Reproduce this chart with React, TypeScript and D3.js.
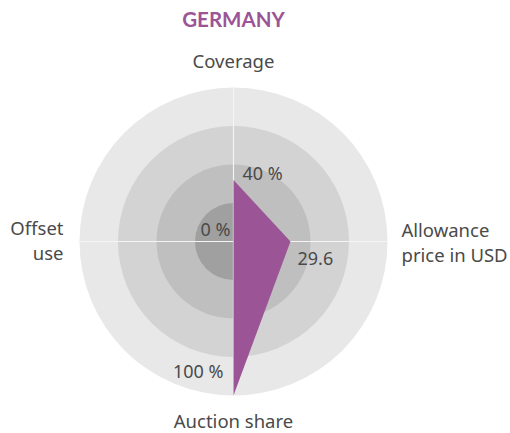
import * as d3 from "d3";

// Radar chart data
const title = "GERMANY";
const axes = ["Coverage", "Allowance price in USD", "Auction share", "Offset use"];
const axisLines = [["Coverage"], ["Allowance", "price in USD"], ["Auction share"], ["Offset", "use"]];
const values = [40, 29.6, 100, 0];
const axisMax = [100, 80, 100, 100];
const valueLabels = ["40 %", "29.6", "100 %", "0 %"];
const rings = [4, 3, 2, 1];

const width = 510;
const height = 433;
const cx = 233.5;
const cy = 241.5;
const outer = 154;
const font = "'Noto Sans', sans-serif";
const textColor = "#4a4a4a";
const purple = "#9b5496";
const ringFill = ["#e8e8e8", "#d3d3d3", "#bfbfbf", "#a0a0a0"];

export default function App() {
  const angle = d3.scalePoint<string>().domain(axes).range([0, 2 * Math.PI * 3 / 4]);
  const radius = axes.map((_, i) => d3.scaleLinear().domain([0, axisMax[i]]).range([0, outer]));
  const ringR = d3.scaleLinear().domain([0, 4]).range([0, outer]);

  const pts = values.map((v, i) => ({ a: angle(axes[i]) ?? 0, r: radius[i](v) }));
  const line = d3.lineRadial<{ a: number; r: number }>()
    .angle(d => d.a)
    .radius(d => d.r)
    .curve(d3.curveLinearClosed);

  const xy = (a: number, r: number) => [r * Math.sin(a), -r * Math.cos(a)];

  // label placement around each point (offset, anchor)
  const valuePos = [
    { dx: 9, dy: 0, anchor: "start" },
    { dx: 7, dy: 23, anchor: "start" },
    { dx: -10, dy: -18, anchor: "end" },
    { dx: -3, dy: -6, anchor: "end" },
  ];
  const axisPos = [
    { x: 0, y: -173.5, anchor: "middle" },
    { x: 168, y: -4.5, anchor: "start" },
    { x: 0, y: 186.5, anchor: "middle" },
    { x: -170, y: -6.5, anchor: "end" },
  ];

  return (
    <svg width={width} height={height} style={{ position: "absolute", left: 0, top: 0 }} fontFamily={font}>
      <text x={cx} y={27} textAnchor="middle" fill={purple} fontWeight="bold" fontSize={20.5} fontFamily="Lato, sans-serif">{title}</text>
      <g transform={`translate(${cx},${cy})`}>
        {rings.map((k, i) => (
          <circle key={k} r={ringR(k)} fill={ringFill[i]} />
        ))}
        {axes.map(a => {
          const [x, y] = xy(angle(a) ?? 0, outer);
          return <line key={a} x1={0} y1={0} x2={x} y2={y} stroke="#f4f4f4" strokeWidth={1.2} />;
        })}
        <path d={line(pts) ?? ""} fill={purple} />
        {pts.map((p, i) => {
          const [x, y] = xy(p.a, p.r);
          const o = valuePos[i];
          return (
            <text key={i} x={x + o.dx} y={y + o.dy} textAnchor={o.anchor} fill={textColor} fontSize={18}>
              {valueLabels[i]}
            </text>
          );
        })}
        {axisLines.map((ls, i) => (
          <text key={i} x={axisPos[i].x} y={axisPos[i].y} textAnchor={axisPos[i].anchor} fill={textColor} fontSize={18.5}>
            {ls.map((l, j) => (
              <tspan key={j} x={axisPos[i].x} dy={j === 0 ? 0 : 25}>{l}</tspan>
            ))}
          </text>
        ))}
      </g>
    </svg>
  );
}
